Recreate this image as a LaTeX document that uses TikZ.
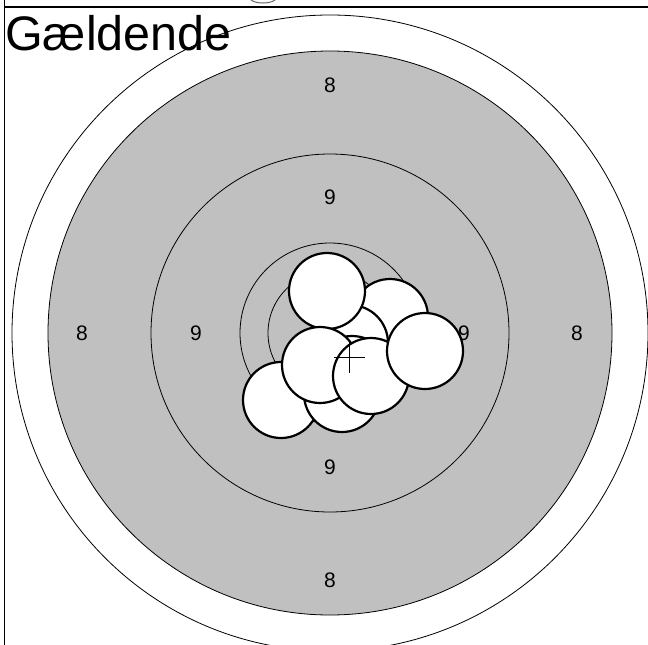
\documentclass[tikz,border=0pt]{standalone}
\usepackage{fontspec}
\setmainfont{Liberation Sans}
\definecolor{ringgray}{RGB}{192,192,192}
\begin{document}
\begin{tikzpicture}
[x=1pt,y=-1pt,
  ringdecorate/.style={draw=black,line width=0.8pt},%
  shotdecorate/.style={shape=circle,inner sep=0pt,minimum size=76pt,draw,fill=white,line width=2.2pt},%
  labeldecorate/.style={font=\fontsize{21}{21}\selectfont,inner sep=0pt}]
\useasboundingbox (0,0) rectangle (648,645);
%% frame and title
\draw[line width=1.3pt] (4.7,0) -- (4.7,645);
\draw[line width=1.3pt] (4.7,7) -- (648,7);
\draw[black!60,line width=1pt] (251,0) .. controls (256,4) and (270,4) .. (275,0);
%% rings
\coordinate (centre) at (330,333);
\draw[ringdecorate,fill=white] (centre) circle[radius=318];
\draw[ringdecorate,fill=ringgray] (centre) circle[radius=282];
\draw[ringdecorate] (centre) circle[radius=179];
\draw[ringdecorate] (centre) circle[radius=90];
\draw[ringdecorate] (centre) circle[radius=62];
\node[anchor=base west,inner sep=0pt,font=\fontsize{48.5}{48.5}\selectfont] (title) at (5,50) {Gældende};
%% ring values
\foreach \nodename/\x/\y/\val in {eighttop/330/85/8, eightleft/82/333/8, eightright/577/333/8, eightbottom/330/580/8,
  ninetop/330/197/9, nineleft/196/333/9, nineright/464/333/9, ninebottom/330/467/9} {
  \node[labeldecorate] (\nodename) at (\x,\y) {\val};
}
%% shots
\foreach \nodename/\x/\y in {shota/390/317, shotb/350/343, shoti/352/374, shote/281/400, shotd/342/394,
  shotc/327/291, shotf/320/365, shotg/371/376, shoth/425/351} {
  \node (\nodename) at (\x,\y) [shotdecorate] {};
}
%% centre mark
\draw[black,line width=1.4pt] (334,357.5) -- (365,357.5) (349.5,342) -- (349.5,373);
\end{tikzpicture}
\end{document}
